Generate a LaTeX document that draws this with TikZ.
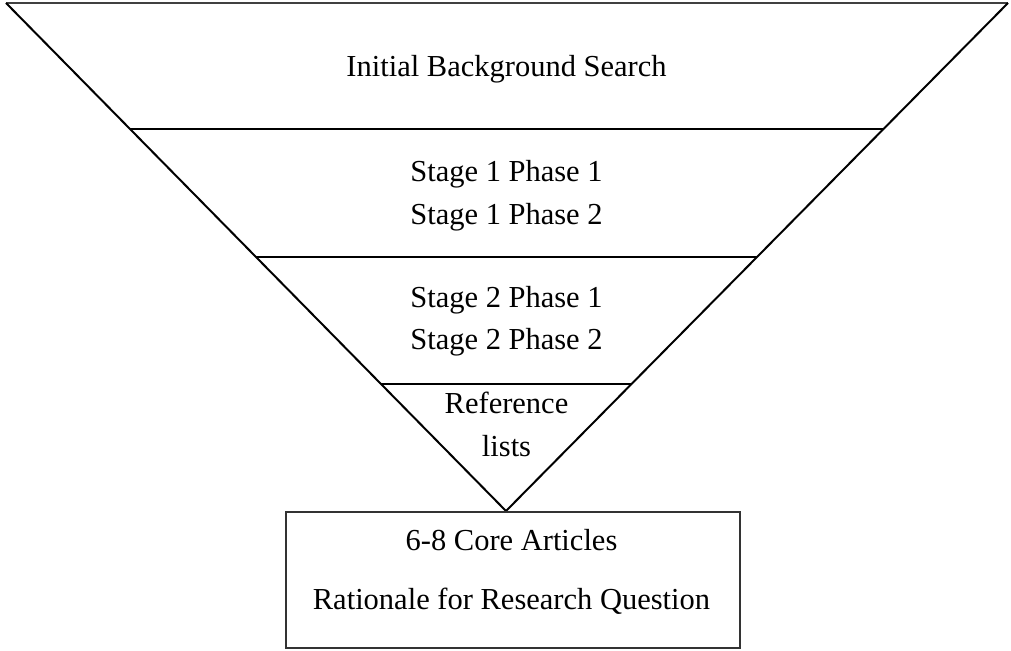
\documentclass[tikz,border=0pt]{standalone}
\usepackage{fontspec}
\setmainfont{Liberation Serif}
\usetikzlibrary{calc}
\begin{document}
\begin{tikzpicture}[x=1pt,y=-1pt,
  edge/.style={line width=2pt,black},
  topedge/.style={line width=1.6pt,black!75},
  lbl/.style={anchor=base,inner sep=0pt,font=\fontsize{30.5}{36}\selectfont},
  boxstyle/.style={draw=black!80,line width=1.5pt,minimum width=454pt,minimum height=136pt,inner sep=0pt}]
\useasboundingbox (0,0) rectangle (1011,650);
\coordinate (L) at (6,3);
\coordinate (R) at (1008,3);
\coordinate (A) at (506,511);
\draw[topedge] (L) -- (R);
\draw[edge,line join=miter] (L) -- (A) -- (R);
% dividers
\foreach \y/\n in {129/a,257/b,384/c}{
  \coordinate (l\n) at ($(L)!{(\y-3)/508}!(A)$);
  \coordinate (r\n) at ($(R)!{(\y-3)/508}!(A)$);
  \draw[edge] (l\n) -- (r\n);
}
\node[lbl] (t0) at (506.5,76.5) {Initial Background Search};
\node[lbl] (t1) at (506.5,181) {Stage 1 Phase 1};
\node[lbl] (t2) at (506.5,224.5) {Stage 1 Phase 2};
\node[lbl] (t3) at (506.5,307.5) {Stage 2 Phase 1};
\node[lbl] (t4) at (506.5,349.5) {Stage 2 Phase 2};
\node[lbl] (t5) at (506.5,413) {Reference};
\node[lbl] (t6) at (506.5,456) {lists};
\node[boxstyle] (box) at (513,580) {};
\node[lbl] (b1) at (511.5,550) {6-8 Core Articles};
\node[lbl] (b2) at (511.5,609) {Rationale for Research Question};
\end{tikzpicture}
\end{document}
